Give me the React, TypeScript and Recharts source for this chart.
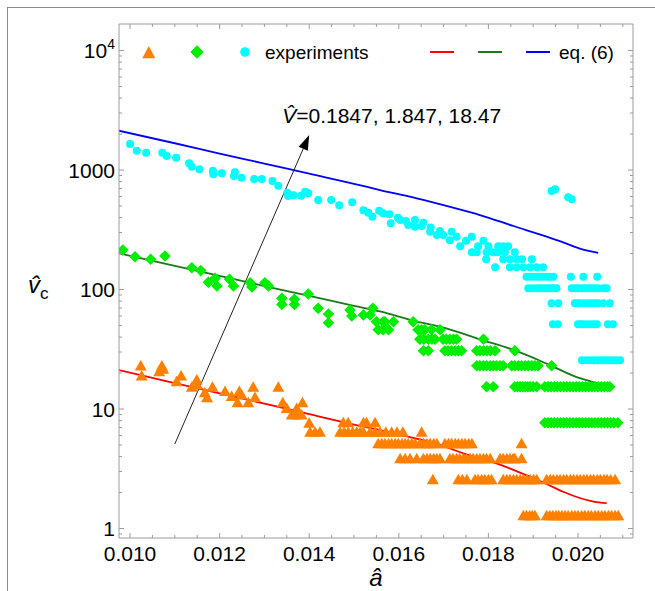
import React from 'react';
import { ComposedChart, Line, Scatter, XAxis, YAxis, ReferenceLine, Legend } from 'recharts';

const FONT = '"Liberation Sans", Arial, Helvetica, sans-serif';
const FRAME = '#9c9c9c';
const PLOT_TOP = 24;
const PLOT_RIGHT = 633;

const X_DOMAIN = [0.009754, 0.021228];
const Y_DOMAIN = [0.833, 16670];

const xMajor = [0.01, 0.012, 0.014, 0.016, 0.018, 0.02];
const xMinor = [0.0105, 0.011, 0.0115, 0.0125, 0.013, 0.0135, 0.0145, 0.015, 0.0155, 0.0165, 0.017, 0.0175, 0.0185, 0.019, 0.0195, 0.0205, 0.021];
const yMajor = [1, 10, 100, 1000, 10000];
const yMinor = [0.9, 2, 3, 4, 5, 6, 7, 8, 9, 20, 30, 40, 50, 60, 70, 80, 90, 200, 300, 400, 500, 600, 700, 800, 900, 2000, 3000, 4000, 5000, 6000, 7000, 8000, 9000];

// eq. (6) curves (a-hat, v-hat_c)
const redCurve: [number, number][] = [
  [0.00975, 21.2], [0.0105, 18.2], [0.011, 16.5], [0.012, 13.5], [0.013, 11.1], [0.014, 9.06], [0.015, 7.41],
  [0.01558, 6.67], [0.01632, 5.73], [0.01677, 5.23], [0.01744, 4.26], [0.01818, 3.51], [0.01893, 2.71],
  [0.0193, 2.36], [0.01967, 2.03], [0.02004, 1.8], [0.02035, 1.68], [0.02064, 1.63],
];
const greenCurve: [number, number][] = [
  [0.00975, 201], [0.011, 158], [0.012, 130], [0.013, 107], [0.014, 88.5], [0.015, 73], [0.01558, 65.5],
  [0.01632, 55], [0.01706, 47.4], [0.01781, 38.3], [0.01856, 31.2], [0.0193, 24], [0.02004, 18.1], [0.02045, 16.4],
];
const blueCurve: [number, number][] = [
  [0.00975, 2133], [0.011, 1675], [0.012, 1374], [0.013, 1132], [0.014, 931], [0.015, 767], [0.01558, 680],
  [0.01632, 591], [0.01706, 500], [0.01781, 420], [0.01856, 340], [0.0193, 277], [0.01967, 248], [0.02004, 220], [0.02045, 203],
];

// experiments, V = 0.1847
const orangeLoose: [number, number][] = [
  [0.01024, 22.9], [0.01026, 18.9], [0.01065, 20.5], [0.01071, 22.9], [0.01074, 21.5], [0.01104, 16.9], [0.01114, 18.9],
  [0.01138, 15.2], [0.01149, 17.5], [0.0115, 15.9], [0.01167, 13.7], [0.01172, 12.4], [0.01184, 15.2], [0.01212, 14.0],
  [0.01227, 12.7], [0.0124, 11.3], [0.01244, 14.0], [0.01249, 13.1], [0.01264, 11.3], [0.01275, 15.2], [0.01279, 12.5],
  [0.01331, 15.2], [0.01341, 11.3], [0.0135, 10.1], [0.01361, 8.91], [0.01372, 8.91], [0.01383, 8.91], [0.01372, 10.1],
  [0.01385, 11.3], [0.014, 7.59],
];
const orangeRows = [
  { v: 7.68, a: [0.01476, 0.01487, 0.01521, 0.01528, 0.01547] },
  { v: 6.4, a: [0.01402, 0.01413, 0.01424, 0.01469, 0.01478, 0.01487, 0.01497, 0.01506, 0.01514, 0.01521, 0.01536, 0.01547, 0.01558, 0.01571, 0.01584, 0.01596, 0.01609, 0.01651] },
  { v: 5.12, a: [0.01554, 0.01562, 0.01569, 0.01577, 0.01584, 0.01592, 0.01599, 0.01607, 0.01614, 0.01621, 0.01629, 0.01636, 0.01647, 0.01655, 0.01663, 0.0167, 0.01678, 0.01685, 0.01703, 0.01711, 0.01718, 0.01726, 0.01733, 0.01741, 0.01748, 0.01756, 0.01763, 0.01874] },
  { v: 3.84, a: [0.01603, 0.01614, 0.01625, 0.0164, 0.01655, 0.01663, 0.0167, 0.01678, 0.01685, 0.01692, 0.01714, 0.01721, 0.01729, 0.01736, 0.01744, 0.01751, 0.01759, 0.01766, 0.01774, 0.01781, 0.01789, 0.01796, 0.01804, 0.01826, 0.01833, 0.01841, 0.01848, 0.01855, 0.01859, 0.01874] },
  { v: 2.56, a: [0.01676, 0.01733, 0.01742, 0.01752, 0.0177, 0.01777, 0.01785, 0.01792, 0.018, 0.01807, 0.01833, 0.01841, 0.01848, 0.01856, 0.01863, 0.01871, 0.01878, 0.01886, 0.01893, 0.01901, 0.01908, 0.0193, 0.01938, 0.01945, 0.01953, 0.0196, 0.01968, 0.01975, 0.01983, 0.0199, 0.01998, 0.02005, 0.02013, 0.0202, 0.02028, 0.02035, 0.02043, 0.0205, 0.02058, 0.02065, 0.02073, 0.02083] },
  { v: 1.28, a: [0.01878, 0.01885, 0.01892, 0.01898, 0.01904, 0.0193, 0.01937, 0.01944, 0.01951, 0.01957, 0.01964, 0.01971, 0.01978, 0.01986, 0.01993, 0.02, 0.02008, 0.02015, 0.02023, 0.0203, 0.02038, 0.02045, 0.02053, 0.0206, 0.02068, 0.02075, 0.02083, 0.0209] },
];

// experiments, V = 1.847
const greenLoose: [number, number][] = [
  [0.00984, 214], [0.01011, 188], [0.01046, 179], [0.01078, 191], [0.01138, 152], [0.01158, 144], [0.01175, 115],
  [0.0119, 124], [0.01194, 107], [0.01222, 122], [0.01231, 107], [0.01268, 114], [0.01272, 105], [0.01301, 114],
  [0.01309, 107], [0.01339, 84.4], [0.01339, 75.1], [0.01367, 82.8], [0.01367, 75], [0.01398, 91.7], [0.0142, 69.6],
  [0.01443, 62.4], [0.01443, 52.7], [0.01491, 67.3], [0.01495, 60], [0.01521, 61.2], [0.01536, 61.2], [0.01542, 69.6],
];
const greenRows = [
  { v: 53.76, a: [0.0155, 0.01565, 0.01569, 0.01588, 0.01632] },
  { v: 46.08, a: [0.01554, 0.01565, 0.01577, 0.01643, 0.01651, 0.01658, 0.01673, 0.01692] },
  { v: 38.4, a: [0.01647, 0.01656, 0.01666, 0.01674, 0.01681, 0.01699, 0.01706, 0.01714, 0.01722, 0.01729, 0.01789] },
  { v: 30.72, a: [0.01655, 0.01666, 0.01703, 0.0171, 0.01718, 0.01726, 0.01733, 0.0174, 0.01774, 0.01781, 0.01789, 0.01797, 0.01804, 0.01815, 0.01859] },
  { v: 23.04, a: [0.01774, 0.01781, 0.01789, 0.01796, 0.01804, 0.01811, 0.01818, 0.01826, 0.01833, 0.01852, 0.01859, 0.01867, 0.01874, 0.01882, 0.01889, 0.01897, 0.01904, 0.01911, 0.01941] },
  { v: 15.36, a: [0.01796, 0.01811, 0.01859, 0.01865, 0.01871, 0.01877, 0.01882, 0.01888, 0.01893, 0.019, 0.01908, 0.01926, 0.01933, 0.0194, 0.01947, 0.01954, 0.01961, 0.01968, 0.01975, 0.01982, 0.01989, 0.01996, 0.02003, 0.0201, 0.02017, 0.02024, 0.02031, 0.02038, 0.02045, 0.02052, 0.02059, 0.02066, 0.02071] },
  { v: 7.68, a: [0.01926, 0.01933, 0.0194, 0.01947, 0.01954, 0.01961, 0.01968, 0.01975, 0.01982, 0.01989, 0.01996, 0.02003, 0.0201, 0.02017, 0.02024, 0.02031, 0.02038, 0.02045, 0.02052, 0.02059, 0.02066, 0.02073, 0.0208, 0.02089] },
];

// experiments, V = 18.47
const cyanLoose: [number, number][] = [
  [0.01, 1651], [0.01015, 1449], [0.01036, 1396], [0.01072, 1396], [0.01082, 1310], [0.01103, 1268], [0.01132, 1138],
  [0.01138, 1066], [0.01155, 1014], [0.01185, 986], [0.01186, 920], [0.01205, 938], [0.01232, 891], [0.01234, 957],
  [0.01249, 863], [0.01277, 841], [0.01294, 841], [0.01318, 809], [0.01331, 739], [0.01351, 646], [0.01353, 606],
  [0.01365, 614], [0.01382, 610], [0.01391, 658], [0.01398, 638], [0.0142, 561], [0.01449, 561], [0.01467, 507],
  [0.01496, 537], [0.01521, 460], [0.01532, 440], [0.01541, 407], [0.01556, 456], [0.01565, 434], [0.01579, 426],
  [0.01582, 358], [0.01598, 399], [0.01603, 382], [0.01616, 374], [0.01621, 347], [0.01636, 382], [0.01636, 335],
  [0.01651, 340], [0.01655, 362], [0.01671, 331], [0.0167, 305], [0.01685, 286], [0.01692, 309], [0.01699, 286],
  [0.01714, 259], [0.01718, 305], [0.01729, 277], [0.01737, 230], [0.0175, 256], [0.01763, 277], [0.01789, 256],
  [0.01941, 667], [0.01949, 689], [0.01978, 591], [0.01986, 569],
];
const cyanRows = [
  { v: 230.4, a: [0.01777, 0.018, 0.01822, 0.01833, 0.01844] },
  { v: 204.8, a: [0.01763, 0.01774, 0.01796, 0.01811, 0.01822, 0.01837, 0.01859] },
  { v: 179.2, a: [0.01795, 0.01833, 0.01848, 0.01863, 0.01875, 0.01897] },
  { v: 153.6, a: [0.01815, 0.01848, 0.01863, 0.01878, 0.01893, 0.01908, 0.01922] },
  { v: 128, a: [0.01885, 0.01893, 0.019, 0.01908, 0.01915, 0.01922, 0.0193, 0.01937, 0.01945, 0.01984, 0.02012, 0.02043] },
  { v: 102.4, a: [0.01889, 0.01898, 0.01908, 0.01915, 0.01922, 0.0193, 0.01938, 0.01945, 0.01952, 0.01986, 0.01993, 0.02, 0.02008, 0.02016, 0.02023, 0.0203, 0.02038, 0.02045, 0.02056, 0.02064] },
  { v: 76.8, a: [0.01941, 0.01956, 0.01993, 0.01999, 0.02004, 0.02013, 0.02022, 0.0203, 0.02038, 0.02045, 0.02056, 0.02071] },
  { v: 51.2, a: [0.01944, 0.01955, 0.02, 0.02006, 0.02011, 0.02019, 0.02027, 0.02035, 0.02042, 0.02067, 0.02078] },
  { v: 25.6, a: [0.02009, 0.02018, 0.02027, 0.02036, 0.02045, 0.02053, 0.0206, 0.02068, 0.02076, 0.02085, 0.02094] },
];

const arrowFrom = { a: 0.011, v: 5.1 };
const arrowTo = { a: 0.014, v: 1963 };

const toPts = (pairs: [number, number][]) => pairs.map(([a, v]) => ({ a, v }));
const withRows = (loose: [number, number][], rows: { v: number; a: number[] }[]) => [
  ...toPts(loose),
  ...rows.flatMap((r) => r.a.map((a) => ({ a, v: r.v }))),
];

const orangePts = withRows(orangeLoose, orangeRows);
const greenPts = withRows(greenLoose, greenRows);
const cyanPts = withRows(cyanLoose, cyanRows);

const isMajor = (list: number[], v: number) => list.some((m) => Math.abs(m - v) < 1e-9);

const BottomTick = ({ x, y, payload }: any) => {
  const major = isMajor(xMajor, payload.value);
  const len = major ? 5 : 3;
  return (
    <g>
      <line x1={x} x2={x} y1={y} y2={y - len} stroke={FRAME} />
      <line x1={x} x2={x} y1={PLOT_TOP} y2={PLOT_TOP + len} stroke={FRAME} />
      {major && (
        <text x={x} y={y + 23} textAnchor="middle" fontSize={21} fontFamily={FONT} fill="#000">
          {payload.value.toFixed(3)}
        </text>
      )}
    </g>
  );
};

const LeftTick = ({ x, y, payload }: any) => {
  const major = isMajor(yMajor, payload.value);
  const len = major ? 5 : 3;
  return (
    <g>
      <line x1={x} x2={x + len} y1={y} y2={y} stroke={FRAME} />
      <line x1={PLOT_RIGHT} x2={PLOT_RIGHT - len} y1={y} y2={y} stroke={FRAME} />
      {major && (
        <text x={x - 4} y={y + 7.5} textAnchor="end" fontSize={21} fontFamily={FONT} fill="#000">
          {payload.value === 10000 ? (
            <>
              <tspan>10</tspan>
              <tspan dy={-9} fontSize={14}>4</tspan>
            </>
          ) : (
            String(payload.value)
          )}
        </text>
      )}
    </g>
  );
};

const triangle = ({ cx, cy }: any) => (
  <polygon points={`${cx},${cy - 6} ${cx - 6},${cy + 4.5} ${cx + 6},${cy + 4.5}`} fill="#ff8000" />
);
const diamond = ({ cx, cy }: any) => (
  <polygon points={`${cx},${cy - 5.8} ${cx + 5.8},${cy} ${cx},${cy + 5.8} ${cx - 5.8},${cy}`} fill="#00ee00" />
);
const dot = ({ cx, cy }: any) => <circle cx={cx} cy={cy} r={4} fill="#00ffff" />;

const ArrowShape = (props: any) => {
  const { x1, y1, x2, y2 } = props;
  const ang = Math.atan2(y2 - y1, x2 - x1);
  const L = 15;
  const hw = 5;
  const bx = x2 - L * Math.cos(ang);
  const by = y2 - L * Math.sin(ang);
  const px = -Math.sin(ang) * hw;
  const py = Math.cos(ang) * hw;
  return (
    <g>
      <line x1={x1} y1={y1} x2={bx} y2={by} stroke="#222" strokeWidth={1} />
      <polygon points={`${x2},${y2} ${bx + px},${by + py} ${bx - px},${by - py}`} fill="#000" />
      <text x={x2 - 27} y={y2 - 12} fontSize={21} fontFamily={FONT} fill="#000">
        <tspan fontStyle="italic">V̂</tspan>=0.1847, 1.847, 18.47
      </text>
    </g>
  );
};

const LegendBox = () => (
  <svg width={655} height={80} style={{ display: 'block' }}>
    <polygon points="148.8,46 142.3,58.3 155.3,58.3" fill="#ff8000" />
    <polygon points="197,45.3 203.7,52 197,58.7 190.3,52" fill="#00ee00" />
    <circle cx={245} cy={52} r={4.8} fill="#00ffff" />
    <text x={265} y={59} fontSize={19} fontFamily={FONT} fill="#000">experiments</text>
    <line x1={430} x2={454} y1={52} y2={52} stroke="#ff0000" strokeWidth={2} />
    <line x1={478} x2={502} y1={52} y2={52} stroke="#1a7a1a" strokeWidth={2} />
    <line x1={526} x2={550} y1={52} y2={52} stroke="#0000ff" strokeWidth={2} />
    <text x={559} y={59} fontSize={19} fontFamily={FONT} fill="#000">eq. (6)</text>
  </svg>
);

const XLabel = ({ viewBox }: any) => (
  <text x={viewBox.x + viewBox.width / 2} y={viewBox.y + 48} textAnchor="middle" fontSize={24} fontStyle="italic" fontFamily={FONT} fill="#000">
    â
  </text>
);

const YLabel = ({ viewBox }: any) => (
  <text x={viewBox.x + 9} y={viewBox.y + viewBox.height / 2 + 12} fontSize={24} fontFamily={FONT} fill="#000">
    <tspan fontStyle="italic">v̂</tspan>
    <tspan dy={6} fontSize={17}>c</tspan>
  </text>
);

export default function App() {
  return (
    <div style={{ position: 'absolute', left: 0, top: 0, width: 655, height: 591, background: '#fff', overflow: 'hidden' }}>
      <div style={{ position: 'absolute', left: 7, top: 7, width: 648, height: 584, borderTop: '1.5px solid #8c8c8c', borderLeft: '1.5px solid #8c8c8c' }} />
      <ComposedChart width={655} height={591} margin={{ top: 24, right: 22, bottom: 13, left: 19 }} style={{ position: 'absolute', left: 0, top: 0 }}>
        <XAxis
          dataKey="a"
          type="number"
          domain={X_DOMAIN}
          allowDataOverflow
          ticks={[...xMajor, ...xMinor]}
          interval={0}
          tick={<BottomTick />}
          tickLine={false}
          tickSize={0}
          tickMargin={0}
          height={40}
          axisLine={{ stroke: FRAME }}
          label={{ content: <XLabel /> }}
        />
        <YAxis
          dataKey="v"
          type="number"
          scale="log"
          domain={Y_DOMAIN}
          allowDataOverflow
          ticks={[...yMajor, ...yMinor]}
          interval={0}
          tick={<LeftTick />}
          tickLine={false}
          tickSize={0}
          tickMargin={0}
          width={100}
          axisLine={{ stroke: FRAME }}
          label={{ content: <YLabel /> }}
        />
        <ReferenceLine y={Y_DOMAIN[1]} stroke={FRAME} ifOverflow="extendDomain" />
        <ReferenceLine x={X_DOMAIN[1]} stroke={FRAME} ifOverflow="extendDomain" />
        <Scatter data={orangePts} shape={triangle} isAnimationActive={false} />
        <Scatter data={greenPts} shape={diamond} isAnimationActive={false} />
        <Scatter data={cyanPts} shape={dot} isAnimationActive={false} />
        <Line data={toPts(redCurve)} dataKey="v" type="monotone" stroke="#ff0000" strokeWidth={1.8} dot={false} isAnimationActive={false} />
        <Line data={toPts(greenCurve)} dataKey="v" type="monotone" stroke="#1a7a1a" strokeWidth={1.8} dot={false} isAnimationActive={false} />
        <Line data={toPts(blueCurve)} dataKey="v" type="monotone" stroke="#0000ff" strokeWidth={1.8} dot={false} isAnimationActive={false} />
        <ReferenceLine
          segment={[
            { x: arrowFrom.a, y: arrowFrom.v },
            { x: arrowTo.a, y: arrowTo.v },
          ]}
          shape={<ArrowShape />}
        />
        <Legend
          layout="horizontal"
          verticalAlign="middle"
          align="center"
          wrapperStyle={{ position: 'absolute', top: 0, left: 0, width: 655, height: 80, pointerEvents: 'none' }}
          content={<LegendBox />}
        />
      </ComposedChart>
    </div>
  );
}
